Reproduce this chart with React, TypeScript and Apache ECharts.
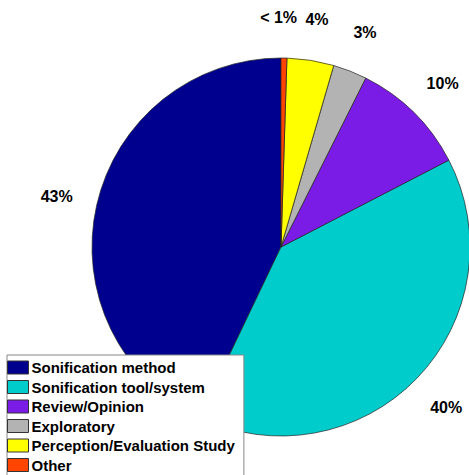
import React, { useEffect, useRef } from "react";
import * as echarts from "echarts";

const categories = [
  "Sonification method",
  "Sonification tool/system",
  "Review/Opinion",
  "Exploratory",
  "Perception/Evaluation Study",
  "Other",
];
const values = [42.9, 39.7, 10.0, 2.9, 4.0, 0.5];
const labelTexts = ["43%", "40%", "10%", "3%", "4%", "< 1%"];
const colors = ["#00008f", "#00cccc", "#7b1be6", "#b3b3b3", "#ffff00", "#ff4500"];

export default function App() {
  const ref = useRef<HTMLDivElement>(null);
  useEffect(() => {
    if (!ref.current) return;
    const chart = echarts.init(ref.current, undefined, { renderer: "svg" });
    const data = categories.map((name, i) => ({
      name,
      value: values[i],
      itemStyle: { color: colors[i] },
    }));
    const labelData = categories.map((name, i) => ({
      name,
      value: values[i],
      label:
        i === categories.length - 1
          ? { formatter: labelTexts[i], padding: [0, 12, 0, 0] }
          : { formatter: labelTexts[i] },
    }));
    chart.setOption({
      animation: false,
      backgroundColor: "#ffffff",
      legend: {
        data: categories,
        orient: "vertical",
        left: 7,
        top: 355,
        height: 300,
        itemWidth: 21,
        itemHeight: 13,
        itemGap: 4.5,
        padding: [5, 9, 6, 0],
        backgroundColor: "#ffffff",
        borderColor: "#888888",
        borderWidth: 1,
        borderRadius: 0,
        selectedMode: false,
        icon: "rect",
        itemStyle: { borderColor: "#333333", borderWidth: 1 },
        textStyle: {
          fontFamily: "Liberation Sans, Arial, sans-serif",
          fontWeight: "bold",
          fontSize: 15,
          color: "#000000",
          padding: [0, 0, 0, -2],
        },
      },
      series: [
        {
          type: "pie",
          center: [281, 247],
          radius: [0, 189],
          startAngle: 90,
          clockwise: false,
          silent: true,
          label: { show: false },
          labelLine: { show: false },
          itemStyle: { borderColor: "#222222", borderWidth: 0.7 },
          emphasis: { disabled: true },
          data,
        },
        {
          type: "pie",
          center: [281, 247],
          radius: [208, 246],
          startAngle: 90,
          clockwise: false,
          silent: true,
          itemStyle: { color: "rgba(0,0,0,0)", borderWidth: 0 },
          emphasis: { disabled: true },
          label: {
            show: true,
            position: "inside",
            fontFamily: "Liberation Sans, Arial, sans-serif",
            fontWeight: "bold",
            fontSize: 16,
            color: "#000000",
          },
          labelLine: { show: false },
          data: labelData,
        },
      ],
    });
    return () => chart.dispose();
  }, []);
  return (
    <div
      ref={ref}
      style={{ position: "absolute", left: 0, top: 0, width: 469, height: 475 }}
    />
  );
}
